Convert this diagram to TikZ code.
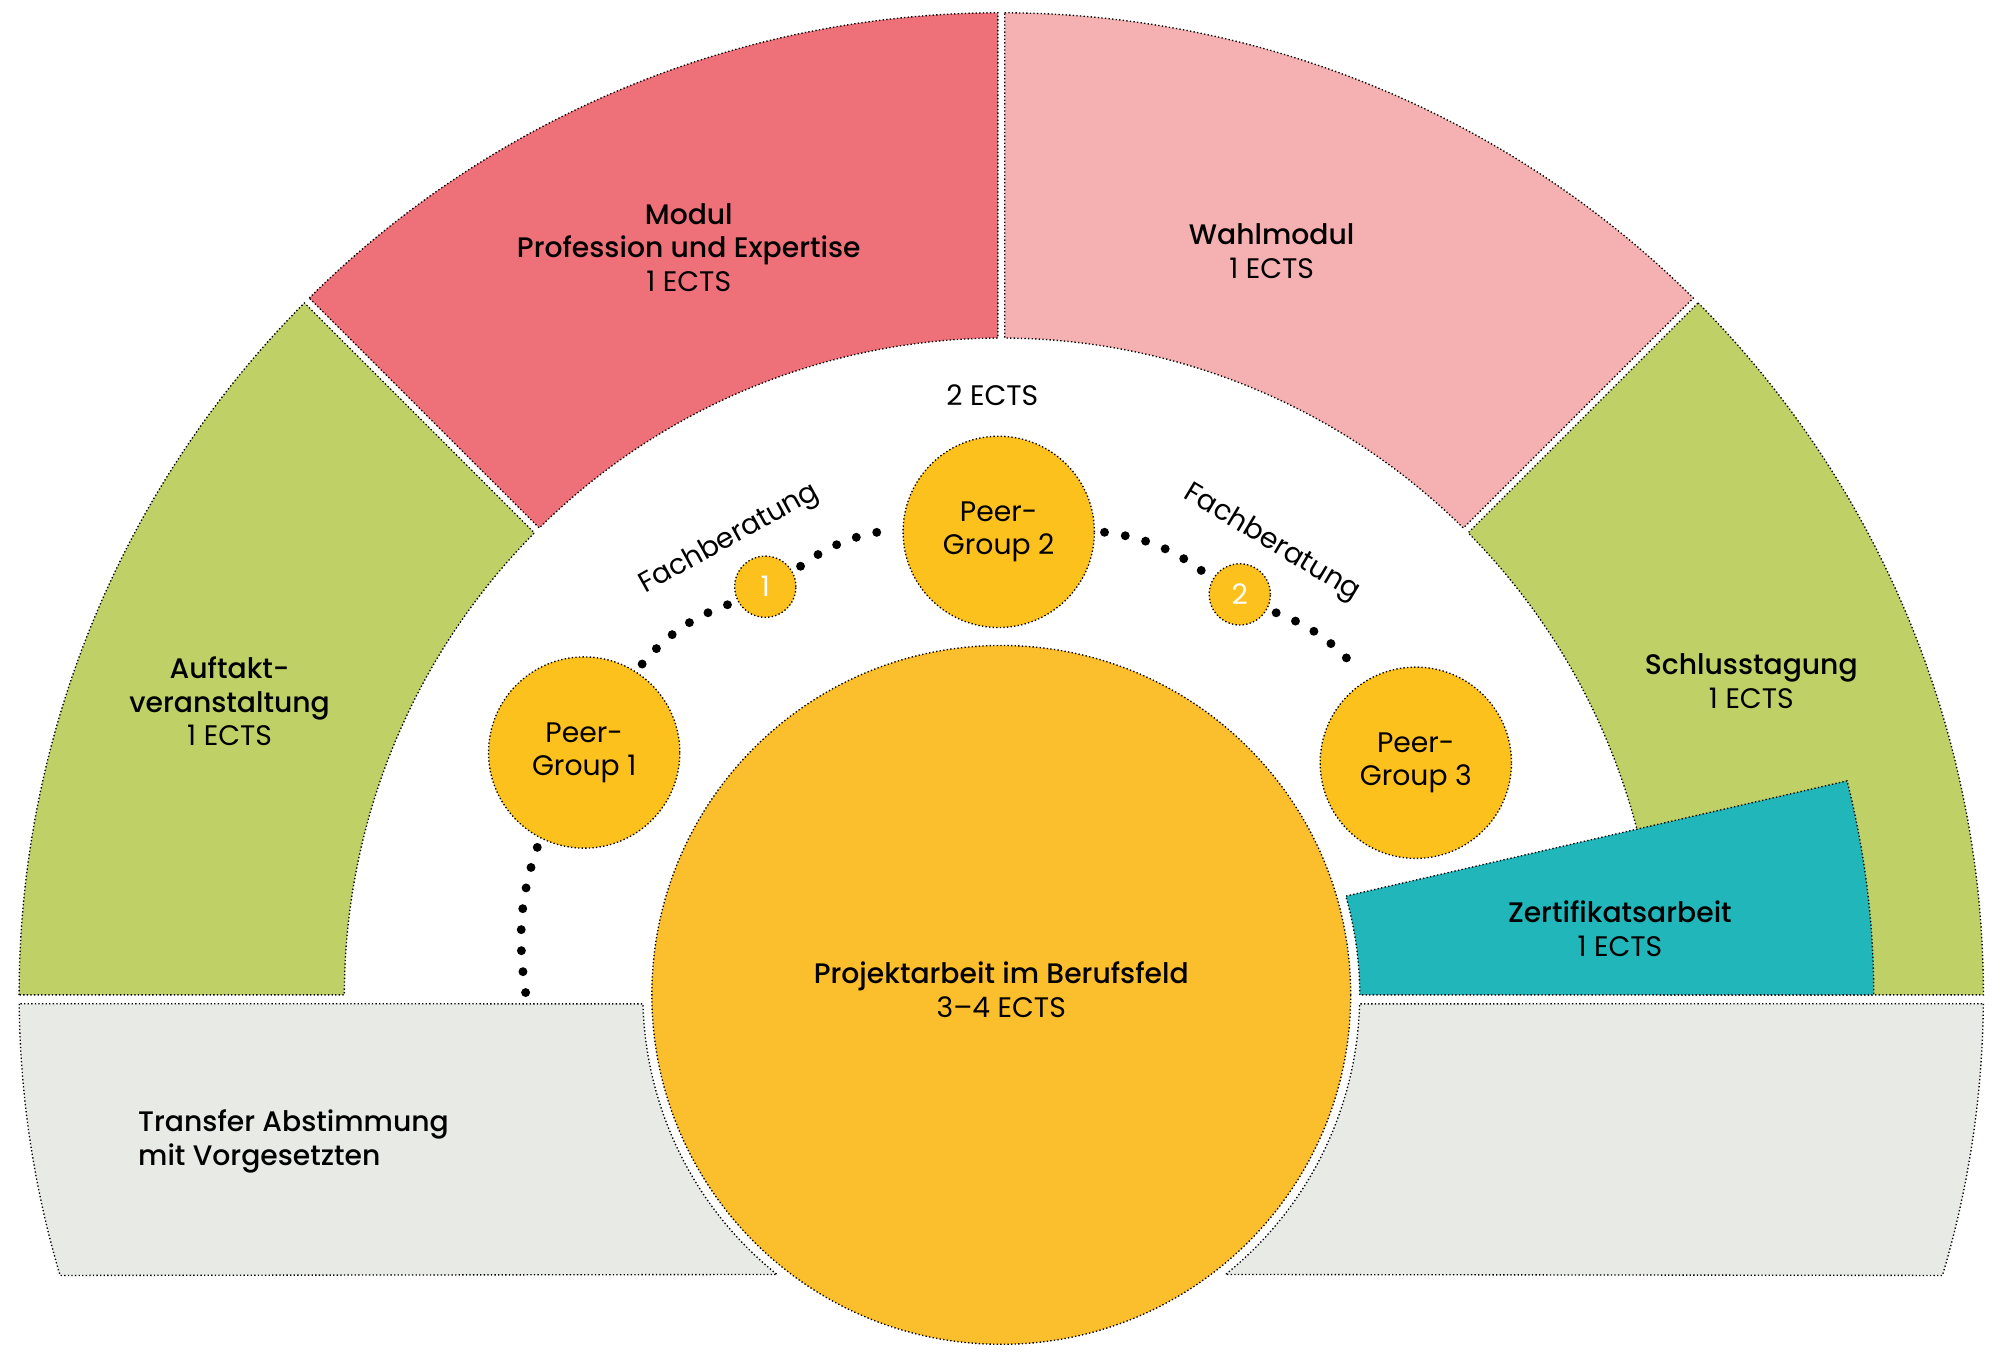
\documentclass[tikz,border=0pt]{standalone}
\usepackage{fontspec}
\setmainfont{Poppins}[BoldFont={Poppins Medium}]
\definecolor{gruen}{HTML}{BFD066}
\definecolor{rot}{HTML}{EE7079}
\definecolor{rosa}{HTML}{F5B1B2}
\definecolor{gelb}{HTML}{FBBE2C}
\definecolor{peergelb}{HTML}{FDC11E}
\definecolor{tuerkis}{HTML}{21B6BA}
\definecolor{grau}{HTML}{E8EAE6}
\begin{document}
\begin{tikzpicture}[x=0.02cm, y=0.02cm,
  rand/.style={draw=black, densely dotted, line width=0.6pt},
  schrift/.style={font=\fontsize{12.6}{14.9}\selectfont, align=center},
  kreis/.style={circle, fill=peergelb, rand, inner sep=0pt, schrift},
  punkte/.style={line width=0.14cm, line cap=round, dash pattern=on 0pt off 0.33cm, shorten <=0.15cm, shorten >=0.15cm}]
\useasboundingbox (-785,-291) rectangle (783,780);
% Ring oben
\filldraw[fill=gruen, rand] (180:770) arc[start angle=180, end angle=135.2, radius=770] -- (135.3:515) arc[start angle=135.3, end angle=180, radius=515] -- cycle;
\filldraw[fill=rot, rand] (134.8:770) arc[start angle=134.8, end angle=90.2, radius=770] -- (90.3:515) arc[start angle=90.3, end angle=134.7, radius=515] -- cycle;
\filldraw[fill=rosa, rand] (89.8:770) arc[start angle=89.8, end angle=45.2, radius=770] -- (45.3:515) arc[start angle=45.3, end angle=89.7, radius=515] -- cycle;
\filldraw[fill=gruen, rand] (44.8:770) arc[start angle=44.8, end angle=0, radius=770] -- (0:515) arc[start angle=0, end angle=44.7, radius=515] -- cycle;
% Band unten
\filldraw[fill=grau, rand] (180.52:770) arc[start angle=180.52, end angle=196.6, radius=770] -- (231.27:281) arc[start angle=231.27, end angle=181.43, radius=281] -- cycle;
\filldraw[fill=grau, rand] (359.48:770) arc[start angle=359.48, end angle=343.4, radius=770] -- (308.73:281) arc[start angle=308.73, end angle=358.57, radius=281] -- cycle;
% Zertifikatsarbeit
\filldraw[fill=tuerkis, rand] (0:281) arc[start angle=0, end angle=16, radius=281] -- (14.2:684) arc[start angle=14.2, end angle=0, radius=684] -- cycle;
\node[circle, fill=gelb, rand, minimum size=10.96cm] (projekt) at (0,0) {};
\node[schrift] (projekttext) at (0,4) {\textbf{Projektarbeit im Berufsfeld}\\3--4 ECTS};
\node[kreis, minimum size=3cm] (pg1) at (-327,190) {Peer-\\Group 1};
\node[kreis, minimum size=3cm] (pg2) at (-2,363) {Peer-\\Group 2};
\node[kreis, minimum size=3cm] (pg3) at (325,182) {Peer-\\Group 3};
\node[kreis, minimum size=0.96cm, text=white] (fb1) at (-185,320) {1};
\node[kreis, minimum size=0.96cm, text=white] (fb2) at (187,314) {2};
\coordinate (unten) at (-372,-4);
\draw[punkte] (pg1) to[bend left=15] (fb1);
\draw[punkte] (fb1) to[bend left=15] (pg2);
\draw[punkte] (pg2) to[bend left=15] (fb2);
\draw[punkte] (fb2) to[bend left=15] (pg3);
\draw[punkte, shorten >=0pt] (pg1) to[bend right=14] (unten);
% Texte
\node[schrift] (modul) at (-245,586) {\textbf{Modul}\\\textbf{Profession und Expertise}\\1 ECTS};
\node[schrift] (wahl) at (212,583) {\textbf{Wahlmodul}\\1 ECTS};
\node[schrift] (auftakt) at (-605,230) {\textbf{Auftakt-}\\\textbf{veranstaltung}\\1 ECTS};
\node[schrift] (schluss) at (588,246) {\textbf{Schlusstagung}\\1 ECTS};
\node[schrift] (zert) at (485,52) {\textbf{Zertifikatsarbeit}\\1 ECTS};
\node[schrift, anchor=west, align=left, inner sep=0pt] (transfer) at (-677,-115) {\textbf{Transfer Abstimmung}\\\textbf{mit Vorgesetzten}};
\node[schrift] (ects) at (-7,470) {2 ECTS};
\node[schrift, rotate=29] (fbtext1) at (-213,357) {Fachberatung};
\node[schrift, rotate=-31] (fbtext2) at (212,354) {Fachberatung};
\end{tikzpicture}
\end{document}
